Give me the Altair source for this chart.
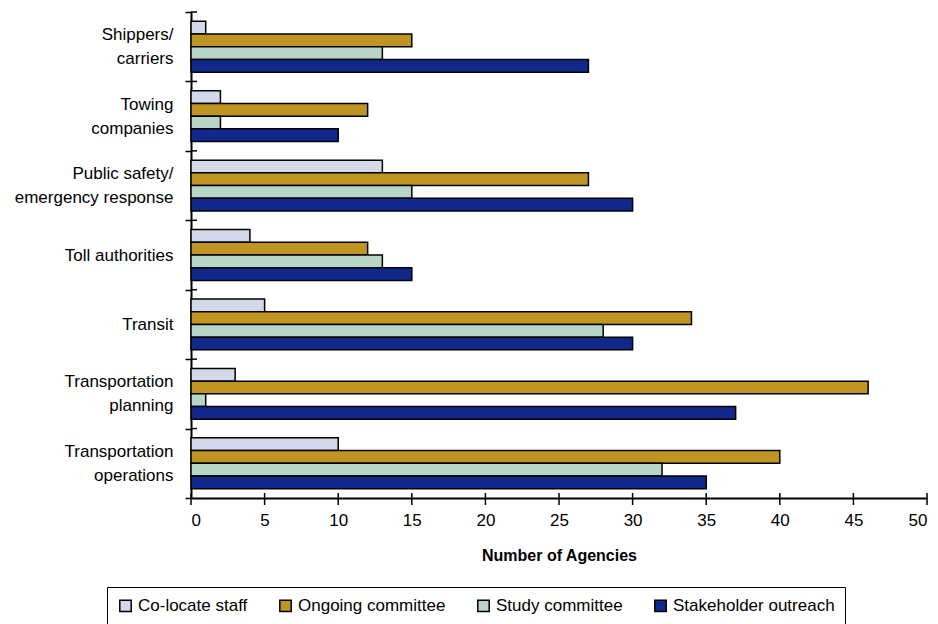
import altair as alt
import pandas as pd

# Agency types (top to bottom) and the four kinds of coordination
agency_types = [
    "Shippers/ carriers",
    "Towing companies",
    "Public safety/ emergency response",
    "Toll authorities",
    "Transit",
    "Transportation planning",
    "Transportation operations",
]
agency_labels = [
    ["Shippers/", "carriers"],
    ["Towing", "companies"],
    ["Public safety/", "emergency response"],
    ["Toll authorities"],
    ["Transit"],
    ["Transportation", "planning"],
    ["Transportation", "operations"],
]
series = ["Co-locate staff", "Ongoing committee", "Study committee", "Stakeholder outreach"]
series_colors = ["#D3D9E8", "#C09422", "#B8D6C8", "#10288A"]

co_locate_staff = [1, 2, 13, 4, 5, 3, 10]
ongoing_committee = [15, 12, 27, 12, 34, 46, 40]
study_committee = [13, 2, 15, 13, 28, 1, 32]
stakeholder_outreach = [27, 10, 30, 15, 30, 37, 35]

x_ticks = [0, 5, 10, 15, 20, 25, 30, 35, 40, 45, 50]

rows = []
for values, name in zip(
    [co_locate_staff, ongoing_committee, study_committee, stakeholder_outreach], series
):
    for agency, v in zip(agency_types, values):
        rows.append({"agency": agency, "kind": name, "agencies": v})
df = pd.DataFrame(rows)

# category names become stacked label lines on the y axis
label_expr = "datum.value"
for a, l in zip(agency_types, agency_labels):
    label_expr = f"datum.value === {a!r} ? {l!r} : ({label_expr})"
two_line = [a for a, l in zip(agency_types, agency_labels) if len(l) > 1]
two_line_test = f"indexof({two_line!r}, datum.value) >= 0"

W, H = 736, 486
FONT = "Liberation Sans"

x_scale = alt.Scale(domain=[0, 50], nice=False, zero=True)
y_scale = alt.Scale(domain=agency_types, paddingInner=0, paddingOuter=0)

x_axis = alt.Axis(
    title="Number of Agencies",
    values=x_ticks,
    ticks=False,
    grid=False,
    domainColor="black",
    domainWidth=2,
    labelFont=FONT,
    labelFontSize=17,
    labelColor="black",
    labelPadding=14,
    titleFont=FONT,
    titleFontSize=16,
    titleFontWeight="bold",
    titleColor="black",
    titlePadding=19,
)
y_axis = alt.Axis(
    title=None,
    tickBand="extent",
    tickSize=6,
    tickWidth=1.5,
    tickColor="black",
    domainColor="black",
    domainWidth=2,
    labelExpr=label_expr,
    labelFont=FONT,
    labelFontSize=17,
    labelColor="black",
    labelLineHeight=24,
    labelPadding=12,
    labelAlign="right",
    labelBaseline={
        "condition": {"test": two_line_test, "value": "line-bottom"},
        "value": "middle",
    },
)

bars = alt.Chart(df).mark_bar(stroke="black", strokeWidth=1.5).encode(
    x=alt.X("agencies:Q", scale=x_scale, axis=x_axis),
    y=alt.Y("agency:N", scale=y_scale, sort=agency_types, axis=y_axis),
    yOffset=alt.YOffset(
        "kind:N",
        sort=series,
        scale=alt.Scale(domain=series, paddingInner=0, paddingOuter=0.73),
    ),
    color=alt.Color(
        "kind:N",
        sort=series,
        scale=alt.Scale(domain=series, range=series_colors),
        legend=alt.Legend(
            title=None,
            orient="none",
            legendX=-84,
            legendY=575,
            direction="horizontal",
            symbolType="square",
            symbolSize=130,
            symbolStrokeColor="black",
            symbolStrokeWidth=1.5,
            labelFont=FONT,
            labelFontSize=17,
            labelColor="black",
            labelOffset=4,
            labelLimit=400,
            columnPadding=28,
            padding=10,
            strokeColor="black",
            fillColor="white",
        ),
    ),
)

# tick marks on the x axis that cross the axis line
x_tick_marks = alt.Chart(pd.DataFrame({"agencies": x_ticks})).mark_rule(
    color="black", strokeWidth=1.5
).encode(
    x=alt.X("agencies:Q", scale=x_scale, axis=x_axis),
    y=alt.value(H - 5),
    y2=alt.value(H + 7),
)

# inner halves of the category separator ticks on the y axis
y_tick_marks = alt.Chart(pd.DataFrame({"agency": agency_types})).mark_rule(
    color="black", strokeWidth=1.5
).encode(
    y=alt.Y("agency:N", scale=y_scale, sort=agency_types, bandPosition=0, axis=y_axis),
    x=alt.value(0),
    x2=alt.value(6),
)

chart = (
    alt.layer(bars, x_tick_marks, y_tick_marks)
    .properties(
        width=W,
        height=H,
        autosize=alt.AutoSizeParams(type="none"),
        padding={"left": 191, "top": 12, "right": 11, "bottom": 126},
    )
    .configure(background="white")
    .configure_view(stroke="transparent", strokeWidth=0)
)

chart.save("out.html", embed_options={"renderer": "svg", "actions": False})
